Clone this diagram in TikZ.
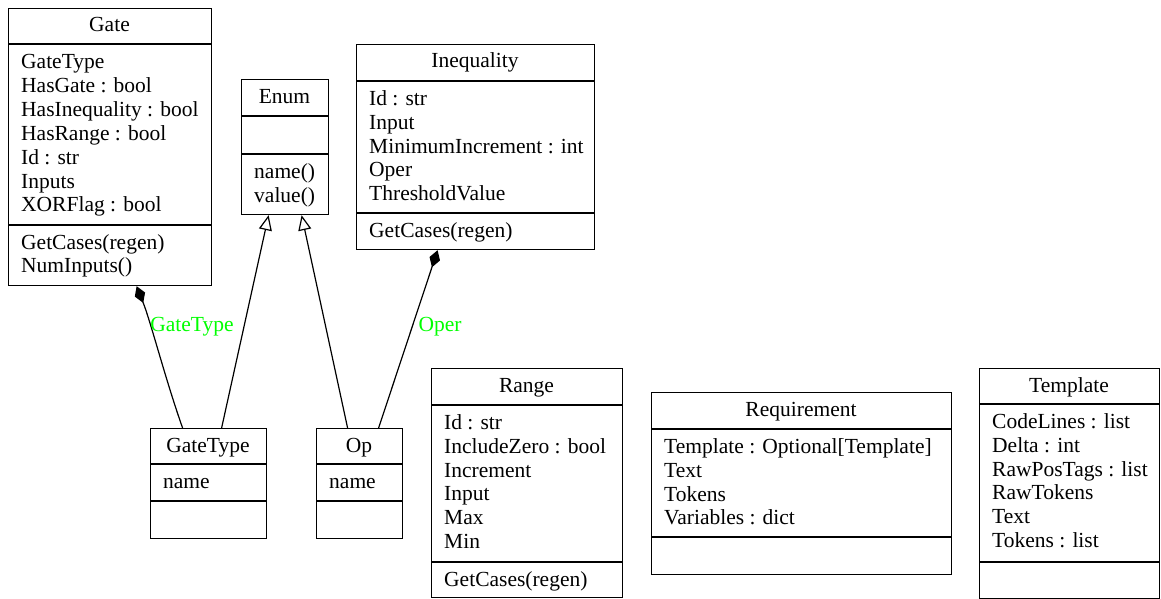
\documentclass[tikz,border=0pt]{standalone}
\usepackage{fontspec}
\setmainfont{Liberation Serif}
\usetikzlibrary{calc,arrows.meta}
\definecolor{lblgreen}{RGB}{0,255,0}
\tikzset{
  umlbox/.style={draw=black, line width=1.2pt, rectangle, inner sep=0pt, anchor=north west},
  sepline/.style={draw=black, line width=1.2pt},
  txt/.style={inner sep=0pt, font=\fontsize{21.5}{23.8}\selectfont},
  ttl/.style={txt, anchor=base},
  lbl/.style={txt, text=lblgreen},
  comp/.style={draw=black, line width=1.2pt, {Diamond[length=18pt,width=11pt,fill=black]}-},
  inh/.style={draw=black, line width=1.2pt, -{Triangle[open,length=15pt,width=13pt,fill=white]}}
}
\newcommand\umllines[4]{%
  \foreach \t [count=\i from 0] in {#4} {
    \node[txt, anchor=base west] (#1-\i) at (#2, {#3+23.8*\i}) {\t};
  }%
}
\begin{document}
\begin{tikzpicture}[x=1pt, y=-1pt]
\useasboundingbox (0,0) rectangle (1161,599);

% Gate
\node[umlbox, minimum width=203pt, minimum height=277pt] (gate) at (8,8) {};
\node[ttl] (gate-t) at (109.5,32) {Gate};
\draw[sepline] ($(gate.north west)+(0,36)$) -- ($(gate.north east)+(0,36)$);
\draw[sepline] ($(gate.north west)+(0,217)$) -- ($(gate.north east)+(0,217)$);
\umllines{gatea}{21}{69}{GateType,HasGate : bool,HasInequality : bool,HasRange : bool,Id : str,Inputs,XORFlag : bool}
\umllines{gatem}{21}{249}{GetCases(regen),NumInputs()}

% Enum
\node[umlbox, minimum width=87pt, minimum height=135pt] (enum) at (241,79) {};
\node[ttl] (enum-t) at (284.5,103) {Enum};
\draw[sepline] ($(enum.north west)+(0,37)$) -- ($(enum.north east)+(0,37)$);
\draw[sepline] ($(enum.north west)+(0,75)$) -- ($(enum.north east)+(0,75)$);
\umllines{enumm}{254}{178.5}{name(),value()}

% Inequality
\node[umlbox, minimum width=238pt, minimum height=205pt] (ineq) at (356,44) {};
\node[ttl] (ineq-t) at (475,68) {Inequality};
\draw[sepline] ($(ineq.north west)+(0,37)$) -- ($(ineq.north east)+(0,37)$);
\draw[sepline] ($(ineq.north west)+(0,169)$) -- ($(ineq.north east)+(0,169)$);
\umllines{ineqa}{369}{105.5}{Id : str,Input,MinimumIncrement : int,Oper,ThresholdValue}
\umllines{ineqm}{369}{237.5}{GetCases(regen)}

% GateType
\node[umlbox, minimum width=116pt, minimum height=110pt] (gatetype) at (150,428) {};
\node[ttl] (gatetype-t) at (208,452) {GateType};
\draw[sepline] ($(gatetype.north west)+(0,36)$) -- ($(gatetype.north east)+(0,36)$);
\draw[sepline] ($(gatetype.north west)+(0,73)$) -- ($(gatetype.north east)+(0,73)$);
\umllines{gatetypea}{163}{488.5}{name}

% Op
\node[umlbox, minimum width=86pt, minimum height=110pt] (op) at (316,428) {};
\node[ttl] (op-t) at (359,452) {Op};
\draw[sepline] ($(op.north west)+(0,36)$) -- ($(op.north east)+(0,36)$);
\draw[sepline] ($(op.north west)+(0,73)$) -- ($(op.north east)+(0,73)$);
\umllines{opa}{329}{488.5}{name}

% Range
\node[umlbox, minimum width=191pt, minimum height=229pt] (range) at (431,368) {};
\node[ttl] (range-t) at (526.5,392) {Range};
\draw[sepline] ($(range.north west)+(0,37)$) -- ($(range.north east)+(0,37)$);
\draw[sepline] ($(range.north west)+(0,194)$) -- ($(range.north east)+(0,194)$);
\umllines{rangea}{444}{429.5}{Id : str,IncludeZero : bool,Increment,Input,Max,Min}
\umllines{rangem}{444}{586}{GetCases(regen)}

% Requirement
\node[umlbox, minimum width=300pt, minimum height=182pt] (req) at (651,392) {};
\node[ttl] (req-t) at (801,416) {Requirement};
\draw[sepline] ($(req.north west)+(0,37)$) -- ($(req.north east)+(0,37)$);
\draw[sepline] ($(req.north west)+(0,145)$) -- ($(req.north east)+(0,145)$);
\umllines{reqa}{664}{453.5}{Template : Optional[Template],Text,Tokens,Variables : dict}

% Template
\node[umlbox, minimum width=180pt, minimum height=230pt] (tmpl) at (979,368) {};
\node[ttl] (tmpl-t) at (1069,392) {Template};
\draw[sepline] ($(tmpl.north west)+(0,36)$) -- ($(tmpl.north east)+(0,36)$);
\draw[sepline] ($(tmpl.north west)+(0,194)$) -- ($(tmpl.north east)+(0,194)$);
\umllines{tmpla}{992}{428.5}{CodeLines : list,Delta : int,RawPosTags : list,RawTokens,Text,Tokens : list}

% Connectors
\draw[comp] ($(gate.south)+(26.5,0)$) .. controls ($(gate.south)+(40.5,35)$) and ($(gatetype.north)+(-43,-48)$) .. ($(gatetype.north)+(-26,0)$);
\draw[inh] ($(gatetype.north)+(13,0)$) -- ($(enum.south)+(-16.5,0)$);
\draw[inh] ($(op.north)+(-12,0)$) -- ($(enum.south)+(16.5,0)$);
\draw[comp] ($(ineq.south)+(-38,0)$) -- ($(op.north)+(19,0)$);

\node[lbl] (lbl-gt) at (192,327) {GateType};
\node[lbl] (lbl-oper) at (440,327) {Oper};
\end{tikzpicture}
\end{document}
